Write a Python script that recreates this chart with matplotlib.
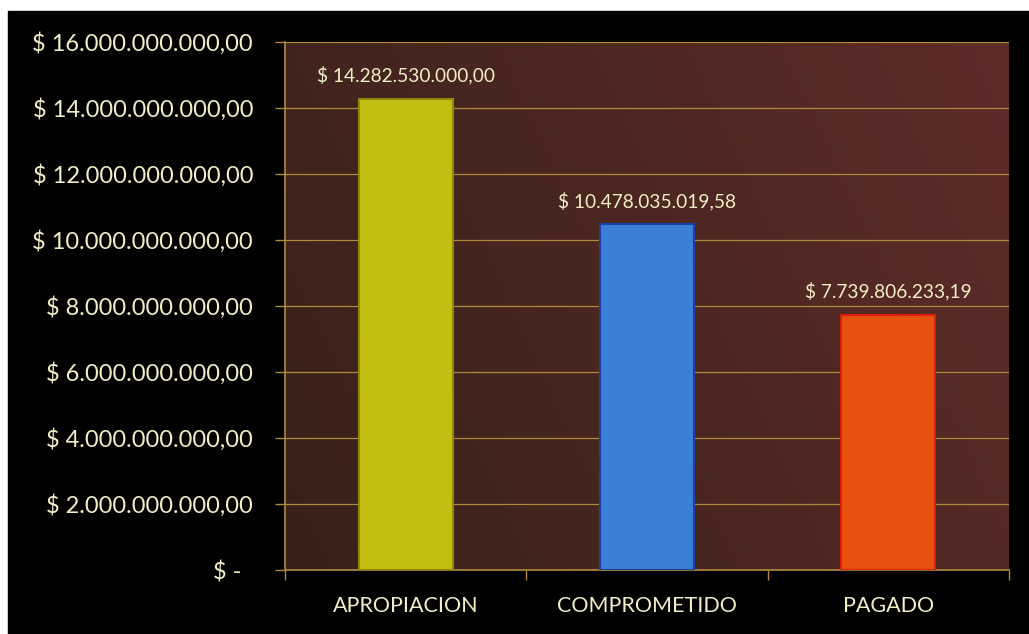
import matplotlib.pyplot as plt
import numpy as np
from matplotlib.patches import Rectangle
from matplotlib.ticker import FixedLocator, FuncFormatter

# ------------------ Data ------------------
categories = ['APROPIACION', 'COMPROMETIDO', 'PAGADO']
values = [14282530000.00, 10478035019.58, 7739806233.19]
bar_colors = ['#c4bd12', '#3b7fd6', '#e8500f']
edge_colors = ['#8f8a08', '#1c3fa8', '#d8200a']
y_ticks = [0, 2e9, 4e9, 6e9, 8e9, 10e9, 12e9, 14e9, 16e9]

gold = '#b08a3c'
text_col = '#f2eec6'
font = ['Lato', 'DejaVu Sans']


def money(v):
    # 14282530000 -> "$ 14.282.530.000,00"
    if v == 0:
        return '$ -  '
    s = f"{v:,.2f}".replace(',', 'X').replace('.', ',').replace('X', '.')
    return '$ ' + s


fig = plt.figure(figsize=(10.29, 6.34), dpi=100, facecolor='white')
# black chart area with a thin white margin at top/left
fig.patches.append(Rectangle((8 / 1029, 0), 1, (634 - 11) / 634,
                             transform=fig.transFigure, color='black', zorder=-5))

ax = fig.add_axes([285 / 1029, 1 - 570 / 634, (1009 - 285) / 1029, (570 - 42) / 634])
ax.set_facecolor('#3d2119')

# brown -> maroon background gradient of the plot area
gx = np.linspace(0, 1, 256)
gy = np.linspace(0, 1, 64)
GX, GY = np.meshgrid(gx, gy)
c0 = np.array([0.22, 0.13, 0.10])
c1 = np.array([0.37, 0.17, 0.16])
t = np.clip(0.75 * GX + 0.25 * (1 - GY), 0, 1)[..., None]
grad = c0 * (1 - t) + c1 * t
ax.imshow(grad, extent=[-0.5, 2.5, 0, 16e9], aspect='auto', zorder=0,
          origin='upper', interpolation='bicubic')

x = np.arange(len(categories))
bars = ax.bar(x, values, width=0.39, color=bar_colors, edgecolor=edge_colors,
              linewidth=1.5, zorder=3)

for b, v in zip(bars, values):
    ax.annotate(money(v), (b.get_x() + b.get_width() / 2, v),
                xytext=(0, 10), textcoords='offset points',
                ha='center', va='bottom', color=text_col,
                fontsize=13.8, family=font, zorder=4)

ax.set_xlim(-0.5, 2.5)
ax.set_ylim(0, 16e9)
ax.yaxis.set_major_locator(FixedLocator(y_ticks))
ax.yaxis.set_major_formatter(FuncFormatter(lambda v, p: money(v)))
ax.grid(axis='y', color=gold, linewidth=0.9, zorder=1)

ax.set_xticks(x)
ax.set_xticklabels(categories)
ax.set_xticks([-0.5, 0.5, 1.5, 2.5], minor=True)
ax.tick_params(axis='x', which='major', length=0, pad=19,
               labelcolor=text_col, labelsize=15.5)
ax.tick_params(axis='x', which='minor', length=7, color=gold, width=1)
ax.tick_params(axis='y', length=7, color=gold, width=1, pad=16,
               labelcolor=text_col, labelsize=17)
for lab in ax.get_xticklabels() + ax.get_yticklabels():
    lab.set_family(font)

for side in ['top', 'right']:
    ax.spines[side].set_visible(False)
for side in ['left', 'bottom']:
    ax.spines[side].set_color(gold)
    ax.spines[side].set_linewidth(1.2)

fig.savefig('out.png', dpi=100, facecolor=fig.get_facecolor())
